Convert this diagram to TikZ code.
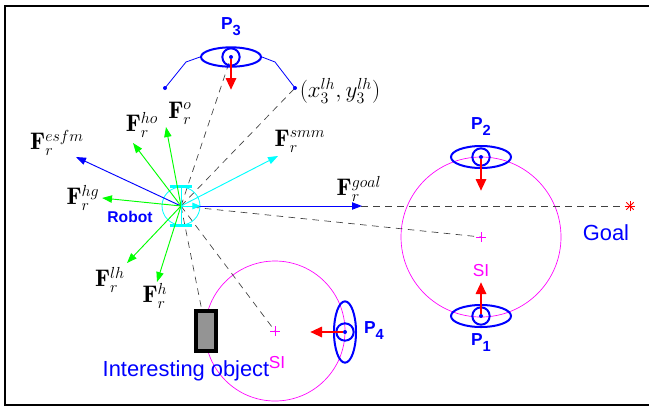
\documentclass[tikz,border=0pt]{standalone}
\usepackage{amsmath}
\usepackage{fontspec}
\setsansfont{Liberation Sans}
\usepackage{tikz}
\usetikzlibrary{positioning,arrows.meta,shapes.geometric,shapes.misc}
\definecolor{mblue}{RGB}{0,0,255}
\definecolor{mgreen}{RGB}{0,255,0}
\definecolor{mcyan}{RGB}{0,255,255}
\definecolor{mmag}{RGB}{255,0,255}
\definecolor{mred}{RGB}{255,0,0}
\newcommand{\Plab}[1]{P\raisebox{-0.65ex}{\fontsize{11}{12}\selectfont #1}}
\tikzset{
  % --- forces acting on the robot ---------------------------------------------
  frc/.style={-{Triangle[length=7.5pt,width=5.5pt]},line width=0.7pt},
  fgreen/.style={frc,mgreen},
  fblue/.style={frc,mblue},
  fcyan/.style={frc,mcyan},
  flab/.style={inner sep=0pt,font=\fontsize{18}{21}\selectfont},
  % --- robot -----------------------------------------------------------------
  robotbody/.style={circle,draw=mcyan,line width=0.6pt,minimum size=28.5pt,
                    inner sep=0pt},
  wheel/.style={mcyan,line width=2.6pt},
  % --- lines of sight --------------------------------------------------------
  sight/.style={dash pattern=on 5pt off 4pt,black!75,line width=0.5pt},
  % --- people ----------------------------------------------------------------
  pbody/.style={ellipse,draw=mblue,line width=1.5pt,minimum width=45pt,
                minimum height=16.5pt,inner sep=0pt},
  phead/.style={circle,draw=mblue,line width=1.5pt,minimum size=13pt,
                inner sep=0pt},
  pdot/.style={circle,fill=mblue,inner sep=0pt,minimum size=3pt},
  push/.style={-{Triangle[length=9pt,width=7.5pt]},mred,line width=2.2pt},
  plab/.style={text=mblue,inner sep=0pt,font=\sffamily\bfseries\fontsize{13}{15}\selectfont},
  % --- interaction spaces ----------------------------------------------------
  sispace/.style={circle,draw=mmag,line width=0.5pt,inner sep=0pt},
  plusmk/.style={cross out,draw=mmag,rotate=45,minimum size=4.6pt,
                 inner sep=0pt,line width=0.6pt},
  silab/.style={text=mmag,inner sep=0pt,font=\sffamily\fontsize{13}{15}\selectfont},
  biglab/.style={text=mblue,inner sep=0pt,font=\sffamily\fontsize{16.4}{18}\selectfont},
}

\begin{document}
\begin{tikzpicture}[x=0.75pt, y=-0.75pt,
    starmk/.style={cross out,draw=mred,minimum size=5pt,inner sep=0pt,line width=0.6pt}]
  \useasboundingbox (0,0) rectangle (649,408);

  % frame
  \draw[line width=1.1pt] (649,6) -- (5,6) -- (5,405) -- (649,405);

  % places
  \coordinate (robot) at (181,206);
  \coordinate (c1) at (481,237);
  \coordinate (c4) at (275,331);
  \node[sispace,minimum size=120pt] (sic1) at (c1) {};
  \node[sispace,minimum size=105pt] (sic4) at (c4) {};
  \node[silab] (sil1) at (481,271) {SI};
  \node[silab] (sil4) at (277,363) {SI};

  % interesting object
  \node[draw,line width=2.4pt,fill=black!42,minimum width=15pt,minimum height=30pt,
        inner sep=0pt] (obj) at (206,331) {};
  \node[biglab] (objlab) at (186,371) {Interesting object};
  \node[biglab] (goallab) at (606,233) {Goal};

  % lines of sight
  \coordinate (lhl) at (165,88);
  \coordinate (lhr) at (295,88);
  \coordinate (goal) at (630,206);
  \draw[sight] (robot) -- (goal);
  \draw[sight] (robot) -- (c1);
  \draw[sight] (robot) -- (c4);
  \draw[sight] (robot) -- (obj);
  \draw[sight] (robot) -- (lhr);
  \draw[sight] (robot) -- (231,57);
  \node[starmk] (gs1) at (goal) {};
  \node[starmk,rotate=45] (gs2) at (goal) {};
  \node[plusmk] (si1) at (c1) {};
  \node[plusmk] (si4) at (c4) {};

  % forces
  \coordinate (tesfm) at (76,157);
  \coordinate (tho)   at (133,143);
  \coordinate (to)    at (166,127);
  \coordinate (thg)   at (102,198);
  \coordinate (tlh)   at (127,263);
  \coordinate (th)    at (157,282);
  \coordinate (tsmm)  at (278,156);
  \coordinate (tgoal) at (362,206);
  \node[robotbody] (rb) at (robot) {};
  \draw[wheel] ([xshift=-8.5pt]rb.north) -- ([xshift=8.5pt]rb.north);
  \draw[wheel] ([xshift=-8.5pt]rb.south) -- ([xshift=8.5pt]rb.south);
  \draw[mcyan,line width=0.6pt] (rb.north) -- (rb.south);
  \draw[fblue]  (robot) -- (tesfm);
  \draw[fgreen] (robot) -- (tho);
  \draw[fgreen] (robot) -- (to);
  \draw[fgreen] (robot) -- (thg);
  \draw[fgreen] (robot) -- (tlh);
  \draw[fgreen] (robot) -- (th);
  \draw[fcyan]  (robot) -- (tsmm);
  \draw[fblue]  (robot) -- (tgoal);
  \draw[-{Triangle[length=6pt,width=5pt]},mcyan,line width=0.6pt] (robot) -- (rb.east);

  \node[flab] (lesfm) at (57,143)  {$\mathbf{F}_r^{esfm}$};
  \node[flab] (lho)   at (142,125) {$\mathbf{F}_r^{ho}$};
  \node[flab] (lo)    at (180,113) {$\mathbf{F}_r^{o}$};
  \node[flab] (lhg)   at (83,198)  {$\mathbf{F}_r^{hg}$};
  \node[flab] (llh)   at (110,280) {$\mathbf{F}_r^{lh}$};
  \node[flab] (lh)    at (155,296) {$\mathbf{F}_r^{h}$};
  \node[flab] (lsmm)  at (300,141) {$\mathbf{F}_r^{smm}$};
  \node[flab] (lgoal) at (359,189) {$\mathbf{F}_r^{goal}$};
  \node[text=mblue,inner sep=0pt,font=\sffamily\bfseries\fontsize{11.7}{13}\selectfont]
       (rlab) at (130,217) {Robot};

  % person 3 and its two hands
  \node[pbody,minimum height=14.5pt] (p3e) at (231,57) {};
  \node[phead] (p3h) at (p3e) {};
  \node[pdot] (p3) at (p3e) {};
  \coordinate (bl) at (186,62);
  \coordinate (br) at (275,62);
  \draw[mblue,line width=0.6pt] (lhl) -- (bl) -- (p3e.west);
  \draw[mblue,line width=0.6pt] (p3e.east) -- (br) -- (lhr);
  \node[pdot] (dl) at (lhl) {};
  \node[pdot] (dr) at (lhr) {};
  \coordinate (a3) at (231,90);
  \draw[push] (p3) -- (a3);
  \node[plab] (pl3) at (231,27) {\Plab{3}};
  \node[flab] (lhlab) at (340,91) {$(x_3^{lh},y_3^{lh})$};

  % person 2
  \node[pbody] (p2e) at (481,157) {};
  \node[phead] (p2h) at (p2e) {};
  \node[pdot] (p2) at (p2e) {};
  \coordinate (a2) at (481,191);
  \draw[push] (p2) -- (a2);
  \node[plab] (pl2) at (481,127) {\Plab{2}};

  % person 1
  \node[pbody] (p1e) at (481,316) {};
  \node[phead] (p1h) at (p1e) {};
  \node[pdot] (p1) at (p1e) {};
  \coordinate (a1) at (481,282);
  \draw[push] (p1) -- (a1);
  \node[plab] (pl1) at (481,343) {\Plab{1}};

  % person 4
  \node[pbody,minimum width=16.5pt,minimum height=46pt] (p4e) at (345,332) {};
  \node[phead] (p4h) at (p4e) {};
  \node[pdot] (p4) at (p4e) {};
  \coordinate (a4) at (310,332);
  \draw[push] (p4) -- (a4);
  \node[plab] (pl4) at (374,331) {\Plab{4}};
\end{tikzpicture}
\end{document}
